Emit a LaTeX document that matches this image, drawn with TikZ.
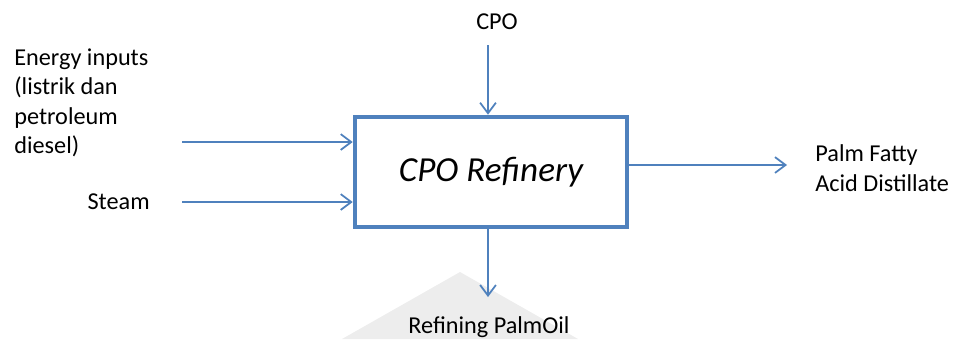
\documentclass[tikz,border=0pt]{standalone}
\usepackage{fontspec}
\setmainfont{Carlito}
\usetikzlibrary{arrows.meta, positioning}
\definecolor{officeblue}{HTML}{4F81BD}

\begin{document}
\begin{tikzpicture}[
    x=0.02cm, y=-0.02cm,
    process/.style={rectangle, draw=officeblue, line width=2.6pt, fill=white, minimum width=5.44cm, minimum height=2.2cm, font=\itshape\fontsize{20}{24}\selectfont},
    label/.style={font=\fontsize{13.8}{16.8}\selectfont, inner sep=0pt},
    flow/.style={-{Straight Barb[length=6pt, width=9pt]}, draw=officeblue, line width=1pt}
]
\useasboundingbox (0,0) rectangle (953,339);

% Watermark
\fill[gray!14] (460,272) -- (578,339) -- (342,339) -- cycle;

% Nodes
\node (refinery) [process] at (491,172) {CPO Refinery};
\node (cpo) [label] at (497,22) {CPO};
\node (energy) [label, align=left, anchor=north west] at (14,48) {Energy inputs\\(listrik dan\\petroleum\\diesel)};
\node (steam) [label, anchor=east] at (150,202) {Steam};
\node (pfad) [label, align=left, anchor=west] at (815,168) {Palm Fatty\\Acid Distillate};
\node (oil) [label] at (489,327) {Refining PalmOil};

\coordinate (energyin) at (182,142);
\coordinate (steamin) at (182,202);
\coordinate (cpoin) at (488,45);
\coordinate (pfadout) at (787,165);
\coordinate (oilout) at (488,297);

% Arrows
\draw [flow] (cpoin) -- (cpoin |- refinery.north);
\draw [flow] (energyin) -- (refinery.west |- energyin);
\draw [flow] (steamin) -- (refinery.west |- steamin);
\draw [flow] (refinery.east |- pfadout) -- (pfadout);
\draw [flow] (oilout |- refinery.south) -- (oilout);

\end{tikzpicture}
\end{document}
